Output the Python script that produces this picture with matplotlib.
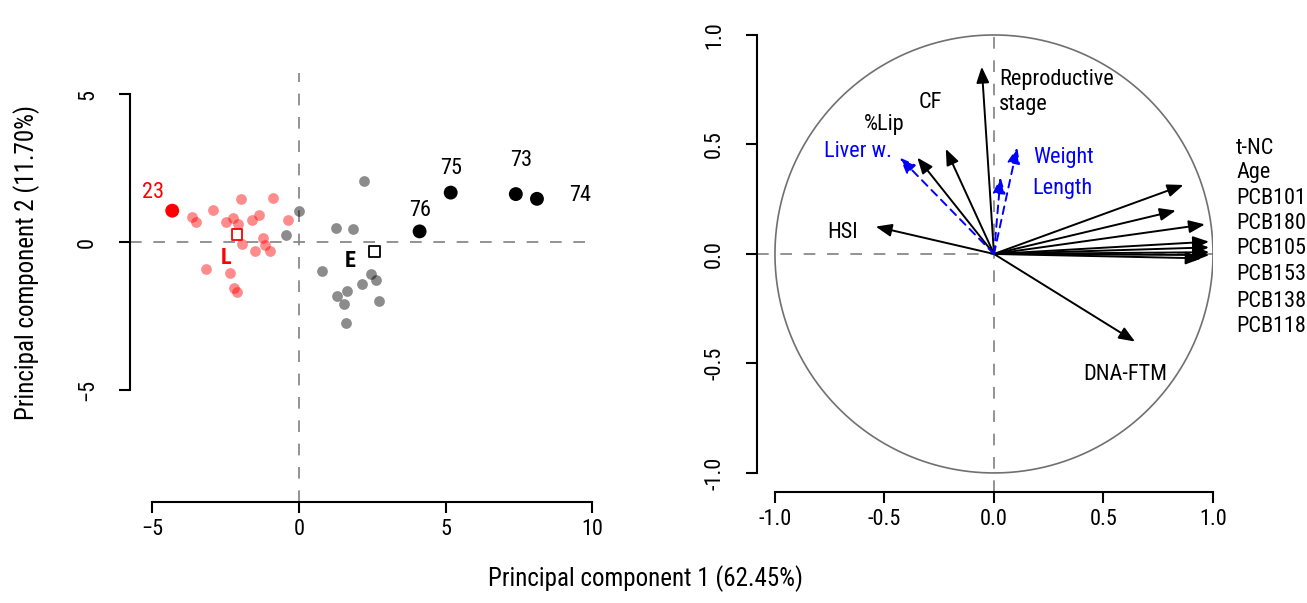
import matplotlib
matplotlib.use('Agg')
import matplotlib.pyplot as plt
import numpy as np

plt.rcParams['font.family'] = ['Roboto Condensed', 'DejaVu Sans']

# scores, group L (pink) and group E (gray)
L_x = [-3.66, -3.51, -2.92, -2.50, -2.26, -2.09, -1.99, -1.61, -1.36, -0.90, -0.38,
       -1.24, -1.95, -1.15, -0.99, -1.51, -3.17, -2.35, -2.23, -2.12]
L_y = [0.83, 0.68, 1.07, 0.68, 0.81, 0.60, 1.44, 0.73, 0.91, 1.48, 0.75,
       0.12, -0.06, -0.09, -0.29, -0.30, -0.92, -1.04, -1.54, -1.69]
E_x = [0.01, -0.45, 1.26, 1.83, 2.20, 0.77, 2.44, 2.63, 2.15, 1.65, 1.30, 1.53, 2.74, 1.59]
E_y = [1.05, 0.23, 0.47, 0.44, 2.05, -0.98, -1.09, -1.28, -1.42, -1.66, -1.82, -2.08, -2.00, -2.72]
out_id = ['23', '76', '75', '73', '74']
out_x = [-4.32, 4.11, 5.17, 7.39, 8.11]
out_y = [1.06, 0.36, 1.67, 1.62, 1.46]
out_col = ['red', 'black', 'black', 'black', 'black']
out_lab_x = [-4.97, 4.14, 5.17, 7.58, 9.57]
out_lab_y = [1.67, 1.06, 2.49, 2.75, 1.58]
cent_name = ['L', 'E']
cent_x = [-2.11, 2.58]
cent_y = [0.25, -0.32]
cent_lab_x = [-2.50, 1.76]
cent_lab_y = [-0.55, -0.63]
cent_col = ['red', 'black']

# loadings (correlation circle)
var_names = ['Reproductive stage', 'CF', '%Lip', 'HSI', 'DNA-FTM', 't-NC', 'Age',
             'PCB101', 'PCB180', 'PCB105', 'PCB153', 'PCB138', 'PCB118']
var_x = [-0.056, -0.22, -0.35, -0.54, 0.644, 0.865, 0.83, 0.963, 0.982, 0.982, 0.983, 0.983, 0.948]
var_y = [0.855, 0.48, 0.44, 0.125, -0.40, 0.315, 0.198, 0.135, 0.056, 0.03, 0.008, -0.005, -0.02]
sup_names = ['Liver w.', 'Weight', 'Length']
sup_x = [-0.43, 0.106, 0.03]
sup_y = [0.44, 0.487, 0.35]

fig = plt.figure(figsize=(13.07, 6.03), dpi=100)
ax1 = fig.add_axes([0.09946, 0.1675, 0.35425, 0.71144])
ax2 = fig.add_axes([0.57919, 0.18408, 0.34889, 0.76119])

dash = dict(color='#808080', lw=1.2, linestyle=(0, (7, 7)), zorder=0)

# ---- left: scores
ax1.set_xlim(-5.76, 10.02)
ax1.set_ylim(-8.78, 5.71)
ax1.axhline(0, **dash)
ax1.axvline(0, **dash)
ax1.scatter(E_x, E_y, s=60, color='black', alpha=0.45, lw=0)
ax1.scatter(L_x, L_y, s=60, color='red', alpha=0.45, lw=0)
ax1.scatter(out_x, out_y, s=100, color=out_col, lw=0)
for i in range(len(out_id)):
    ax1.text(out_lab_x[i], out_lab_y[i], out_id[i], color=out_col[i], fontsize=16,
             ha='center', va='center')
ax1.scatter(cent_x, cent_y, s=60, marker='s', facecolors='white', edgecolors=cent_col, lw=1.3)
for i in range(len(cent_name)):
    ax1.text(cent_lab_x[i], cent_lab_y[i], cent_name[i], color=cent_col[i], fontsize=16,
             fontweight='bold', ha='center', va='center')
ax1.set_xticks([-5, 0, 5, 10])
ax1.set_yticks([-5, 0, 5])
ax1.spines['bottom'].set_bounds(-5, 10)
ax1.spines['left'].set_bounds(-5, 5)

# ---- right: correlation circle
ax2.set_xlim(-1.082, 1.0)
ax2.set_ylim(-1.087, 1.009)
ax2.axhline(0, **dash)
ax2.axvline(0, **dash)
t = np.linspace(0, 2 * np.pi, 400)
ax2.plot(np.cos(t), np.sin(t), color='#707070', lw=1.2)
for i in range(len(var_names)):
    ax2.annotate('', xy=(var_x[i], var_y[i]), xytext=(0, 0),
                 arrowprops=dict(arrowstyle='-|>,head_length=0.6,head_width=0.24', color='black',
                                 lw=1.4, shrinkA=0, shrinkB=0, mutation_scale=16))
for i in range(len(sup_names)):
    ax2.annotate('', xy=(sup_x[i], sup_y[i]), xytext=(0, 0),
                 arrowprops=dict(arrowstyle='-|>,head_length=0.6,head_width=0.24', color='blue',
                                 lw=1.4, linestyle=(0, (4, 3)), shrinkA=0, shrinkB=0, mutation_scale=16))

fs = 16
ax2.text(0.024, 0.74, 'Reproductive\nstage', fontsize=fs, ha='left', va='center', linespacing=1.3)
ax2.text(-0.29, 0.69, 'CF', fontsize=fs, ha='center', va='center')
ax2.text(-0.50, 0.59, '%Lip', fontsize=fs, ha='center', va='center')
ax2.text(-0.62, 0.47, 'Liver w.', fontsize=fs, ha='center', va='center', color='blue')
ax2.text(-0.69, 0.10, 'HSI', fontsize=fs, ha='center', va='center')
ax2.text(0.177, 0.44, 'Weight', fontsize=fs, ha='left', va='center', color='blue')
ax2.text(0.177, 0.30, 'Length', fontsize=fs, ha='left', va='center', color='blue')
ax2.text(0.60, -0.55, 'DNA-FTM', fontsize=fs, ha='center', va='center')
right_labels = var_names[5:]
right_lab_y = [0.483, 0.371, 0.254, 0.140, 0.026, -0.096, -0.218, -0.329]
for name, yy in zip(right_labels, right_lab_y):
    ax2.text(1.105, yy, name, fontsize=fs, ha='left', va='center')

ax2.set_xticks([-1.0, -0.5, 0.0, 0.5, 1.0])
ax2.set_yticks([-1.0, -0.5, 0.0, 0.5, 1.0])
ax2.set_xticklabels(['-1.0', '-0.5', '0.0', '0.5', '1.0'])
ax2.set_yticklabels(['-1.0', '-0.5', '0.0', '0.5', '1.0'])
ax2.spines['bottom'].set_bounds(-1, 1)
ax2.spines['left'].set_bounds(-1, 1)

for ax in (ax1, ax2):
    for s in ('top', 'right'):
        ax.spines[s].set_visible(False)
    for s in ('bottom', 'left'):
        ax.spines[s].set_linewidth(1.5)
    ax.tick_params(direction='out', length=8, width=1.5, labelsize=16)
    ax.tick_params(axis='x', pad=4)
    ax.tick_params(axis='y', pad=15)
    for lab in ax.get_yticklabels():
        lab.set_rotation(90)
        lab.set_va('center')

fig.text(0.4935, 0.018, 'Principal component 1 (62.45%)', fontsize=18, ha='center', va='bottom')
fig.text(0.02, 0.565, 'Principal component 2 (11.70%)', fontsize=18, ha='center', va='center',
         rotation=90)

fig.savefig('out.png', dpi=100)
